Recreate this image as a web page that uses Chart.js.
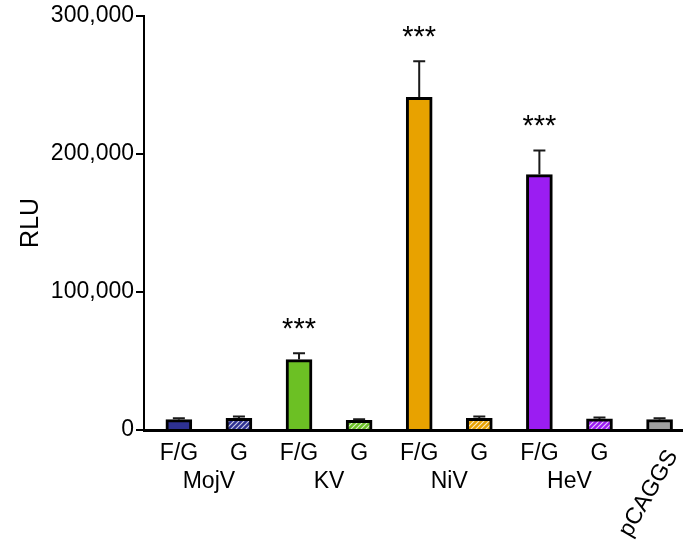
<!DOCTYPE html>
<html>
<head>
<meta charset="utf-8">
<script src="https://cdn.jsdelivr.net/npm/chart.js@4"></script>
<style>
  html, body { margin: 0; padding: 0; background: #fff; }
  #wrap { width: 683px; height: 543px; }
</style>
</head>
<body>
<div id="wrap"><canvas id="c" width="683" height="543"></canvas></div>
<script>
// ---- data ----
const categories = ['MojV F/G', 'MojV G', 'KV F/G', 'KV G', 'NiV F/G', 'NiV G', 'HeV F/G', 'HeV G', 'pCAGGS'];
const tickLabels = ['F/G', 'G', 'F/G', 'G', 'F/G', 'G', 'F/G', 'G', 'pCAGGS'];
const groupNames = ['MojV', 'KV', 'NiV', 'HeV'];
const values = [7500, 8500, 51000, 7000, 241000, 8500, 185000, 8000, 7500];
const errors = [1000, 1200, 4500, 800, 26000, 1300, 17500, 1000, 1000];
const significance = ['', '', '***', '', '***', '', '***', '', ''];
const yTicks = [0, 100000, 200000, 300000];

// ---- styles ----
const baseColors = ['#2e3192', '#2e3192', '#6cc024', '#6cc024', '#e8a200', '#e8a200', '#9b1df2', '#9b1df2', '#a0a0a0'];
const hatched = [false, true, false, true, false, true, false, true, false];
const FONT = 'Liberation Sans, Arial, Helvetica, sans-serif';

function hatch(color) {
  const s = 5;
  const p = document.createElement('canvas');
  p.width = s; p.height = s;
  const g = p.getContext('2d');
  g.fillStyle = color; g.fillRect(0, 0, s, s);
  g.strokeStyle = 'rgba(255,255,255,0.75)';
  g.lineWidth = 1.2;
  g.beginPath();
  g.moveTo(-1, s + 1); g.lineTo(s + 1, -1);
  g.moveTo(-1, 1); g.lineTo(1, -1);
  g.moveTo(s - 1, s + 1); g.lineTo(s + 1, s - 1);
  g.stroke();
  return document.getElementById('c').getContext('2d').createPattern(p, 'repeat');
}
const fills = baseColors.map((c, i) => hatched[i] ? hatch(c) : c);

// x tick positions: bars at integers, group names midway between pairs
const xTickMap = {};
tickLabels.forEach((t, i) => { if (i < 8) xTickMap[i] = t; });
groupNames.forEach((g, k) => { xTickMap[2 * k + 0.5] = ['', g]; });

const overlay = {
  id: 'overlay',
  afterDatasetsDraw(chart) {
    const ctx = chart.ctx;
    const xs = chart.scales.x, ys = chart.scales.y;
    ctx.save();
    ctx.strokeStyle = '#1a1a1a';
    ctx.lineWidth = 2;
    values.forEach((v, i) => {
      const x = xs.getPixelForValue(i);
      const y0 = ys.getPixelForValue(v);
      const y1 = ys.getPixelForValue(v + errors[i]);
      ctx.beginPath();
      ctx.moveTo(x, y0); ctx.lineTo(x, y1);
      ctx.moveTo(x - 6, y1); ctx.lineTo(x + 6, y1);
      ctx.stroke();
      if (significance[i]) {
        ctx.fillStyle = '#000';
        ctx.font = '29px ' + FONT;
        ctx.textAlign = 'center';
        ctx.textBaseline = 'alphabetic';
        ctx.fillText(significance[i], x, y1 - 15);
      }
    });
    // rotated last label
    const xl = xs.getPixelForValue(8);
    ctx.translate(xl + 13, xs.top + 22);
    ctx.rotate(-60 * Math.PI / 180);
    ctx.fillStyle = '#000';
    ctx.font = '23px ' + FONT;
    ctx.textAlign = 'right';
    ctx.textBaseline = 'middle';
    ctx.fillText(tickLabels[8], 0, 0);
    ctx.restore();
  }
};

new Chart(document.getElementById('c'), {
  type: 'bar',
  data: {
    datasets: [{
      label: 'RLU',
      data: values.map((v, i) => ({ x: i, y: v })),
      backgroundColor: fills,
      borderColor: '#000',
      borderWidth: 3,
      borderSkipped: 'bottom',
      barThickness: 26
    }]
  },
  options: {
    responsive: false,
    animation: false,
    events: [],
    layout: { padding: { top: 15, right: 0, left: 0, bottom: 0 } },
    plugins: { legend: { display: false }, tooltip: { enabled: false } },
    scales: {
      x: {
        type: 'linear',
        offset: false,
        min: -0.58,
        max: 8.39,
        afterBuildTicks: s => { s.ticks = Object.keys(xTickMap).map(Number).sort((a, b) => a - b).map(v => ({ value: v })); },
        afterFit: s => { s.height = 113; },
        grid: { display: false, drawTicks: false },
        border: { display: true, color: '#000', width: 3 },
        ticks: {
          autoSkip: false, maxRotation: 0, minRotation: 0,
          padding: 10,
          color: '#000',
          font: { size: 23, family: FONT, lineHeight: 1.2 },
          callback: v => xTickMap[v] !== undefined ? xTickMap[v] : ''
        }
      },
      y: {
        min: 0,
        max: 300000,
        afterBuildTicks: s => { s.ticks = yTicks.map(v => ({ value: v })); },
        afterFit: s => { s.width = 144; },
        grid: { drawOnChartArea: false, drawTicks: true, tickLength: 8, color: '#000', lineWidth: 2 },
        border: { display: true, color: '#000', width: 2 },
        title: { display: true, text: 'RLU', color: '#000', font: { size: 25, family: FONT }, padding: { top: 16, bottom: 4 } },
        ticks: {
          padding: 2,
          color: '#000',
          font: { size: 23, family: FONT },
          callback: v => v.toLocaleString('en-US')
        }
      }
    }
  },
  plugins: [overlay]
});
</script>
</body>
</html>
